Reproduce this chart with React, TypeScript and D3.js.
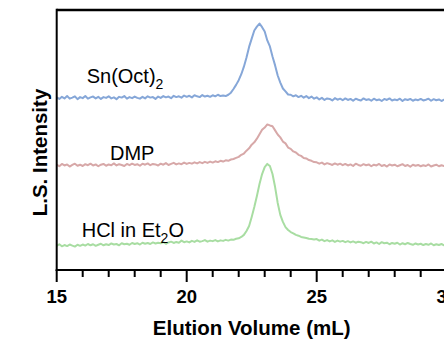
import React from "react";
import * as d3 from "d3";

// Elution volume grid (mL): 15.0 .. 30.0 step 0.1
const X_START = 15;
const X_STEP = 0.1;

const blueSn: number[] = [
  66.4, 65.8, 66.6, 66.0, 66.9, 65.9, 66.3, 66.8, 65.7, 66.5,
  66.1, 66.9, 65.9, 66.4, 66.7, 66.0, 66.6, 65.8, 66.5, 66.2,
  66.8, 66.0, 66.4, 65.7, 66.6, 66.3, 66.9, 65.9, 66.5, 66.1,
  66.7, 66.2, 65.9, 66.6, 66.0, 66.8, 66.3, 66.5, 65.8, 66.7,
  66.2, 66.9, 66.4, 66.7, 66.1, 67.0, 66.5, 66.8, 66.3, 67.1,
  66.6, 67.0, 66.4, 67.2, 66.8, 66.5, 67.3, 66.7, 67.0, 66.6,
  67.2, 66.8, 67.4, 66.9, 67.1, 66.9, 67.4, 68.2, 69.6, 71.2,
  73.0, 75.3, 78.2, 81.7, 85.8, 89.0, 92.1, 93.6, 94.8, 93.4,
  91.7, 88.3, 86.0, 82.1, 78.7, 74.8, 72.1, 69.8, 68.7, 67.5,
  67.4, 66.8, 67.2, 66.5, 67.0, 66.3, 66.9, 66.1, 66.7, 65.9,
  66.4, 65.6, 66.2, 65.4, 66.0, 65.8, 65.2, 66.1, 65.5, 65.9,
  65.3, 66.0, 65.4, 65.8, 65.1, 65.9, 65.5, 65.2, 66.0, 65.4,
  65.7, 65.1, 65.9, 65.3, 65.6, 65.0, 65.8, 65.4, 66.0, 65.2,
  65.6, 65.3, 65.9, 65.0, 65.7, 65.4, 65.8, 65.1, 65.6, 65.3,
  65.8, 65.2, 65.5, 65.9, 65.1, 65.7, 65.3, 65.6, 65.0, 65.5,
  65.4,
];

const redDMP: number[] = [
  40.5, 39.9, 40.8, 40.2, 40.6, 39.8, 40.4, 40.9, 40.1, 40.5,
  40.0, 40.7, 40.3, 40.9, 40.2, 40.6, 39.9, 40.5, 40.8, 40.1,
  40.6, 40.3, 41.0, 40.2, 40.7, 40.4, 40.0, 40.8, 40.3, 40.9,
  40.4, 40.7, 40.1, 40.9, 40.5, 41.0, 40.3, 40.8, 40.6, 40.2,
  40.9, 40.5, 41.1, 40.4, 40.8, 41.2, 40.6, 41.0, 40.7, 41.3,
  40.8, 41.2, 40.9, 41.4, 41.0, 41.5, 41.1, 41.6, 41.2, 41.7,
  41.3, 41.8, 41.5, 42.0, 41.7, 42.2, 42.0, 42.5, 42.7, 43.1,
  43.5, 44.3, 44.8, 45.9, 46.8, 48.2, 49.1, 50.5, 52.2, 53.9,
  54.8, 56.0, 55.6, 55.3, 53.7, 52.1, 51.0, 49.4, 48.7, 47.1,
  46.6, 45.6, 45.2, 44.3, 43.9, 43.1, 42.9, 42.3, 42.0, 41.5,
  41.4, 40.9, 41.3, 40.6, 41.1, 40.8, 40.4, 41.0, 40.5, 40.9,
  40.3, 40.8, 40.2, 40.6, 40.0, 40.9, 40.4, 40.1, 40.7, 40.3,
  40.6, 39.9, 40.5, 40.2, 40.8, 40.0, 40.4, 39.8, 40.6, 40.2,
  40.5, 39.9, 40.3, 40.7, 40.0, 40.4, 39.7, 40.5, 40.1, 40.4,
  39.9, 40.3, 40.0, 40.6, 39.8, 40.2, 40.5, 39.9, 40.3, 40.0,
  40.2,
];

const greenHCl: number[] = [
  9.3, 9.9, 9.1, 9.6, 9.2, 9.8, 9.4, 9.0, 9.7, 9.3,
  9.8, 9.4, 10.0, 9.5, 9.9, 9.3, 9.7, 10.1, 9.5, 9.9,
  9.6, 10.2, 9.8, 10.0, 9.5, 10.3, 9.9, 10.1, 9.7, 10.4,
  10.0, 10.3, 9.8, 10.5, 10.1, 10.4, 10.0, 10.6, 10.2, 10.5,
  10.3, 10.7, 10.1, 10.6, 10.9, 10.4, 10.8, 10.5, 11.3, 10.7,
  11.0, 10.6, 11.2, 10.8, 11.4, 10.9, 11.1, 11.5, 10.9, 11.3,
  11.1, 11.5, 11.0, 11.4, 11.2, 11.6, 11.3, 11.7, 11.6, 12.0,
  12.2, 12.7, 13.5, 15.0, 16.9, 20.4, 24.2, 28.5, 33.1, 36.9,
  39.6, 40.8, 40.0, 36.9, 31.9, 25.8, 21.2, 18.5, 16.5, 15.4,
  14.6, 14.1, 13.5, 13.2, 12.7, 12.5, 12.3, 12.0, 11.9, 11.7,
  11.9, 11.3, 11.7, 11.1, 11.5, 11.0, 11.4, 10.8, 11.3, 10.9,
  11.2, 10.7, 11.1, 10.6, 11.0, 10.5, 10.9, 10.7, 10.3, 10.8,
  10.4, 10.9, 10.2, 10.6, 10.0, 10.7, 10.3, 10.5, 9.9, 10.4,
  10.1, 10.5, 9.8, 10.3, 9.9, 10.4, 10.0, 9.7, 10.2, 9.8,
  10.1, 9.6, 10.0, 9.7, 10.2, 9.5, 9.9, 9.6, 10.0, 9.5,
  9.8,
];

const xTicksMajor = [15, 20, 25, 30];
const xTicksMinor = [16, 17, 18, 19, 21, 22, 23, 24, 26, 27, 28, 29];

const series = [
  { name: "Sn(Oct)", sub: "2", after: "", values: blueSn, color: "#86a7d8", lx: 86.7, ly: 83.3 },
  { name: "DMP", sub: "", after: "", values: redDMP, color: "#d7a8a8", lx: 110, ly: 160 },
  { name: "HCl in Et", sub: "2", after: "O", values: greenHCl, color: "#a8dda2", lx: 81.7, ly: 237.3 },
];

const FONT = "'Liberation Sans', Arial, Helvetica, sans-serif";

export default function App() {
  const W = 444;
  const H = 339;
  const left = 56.7;
  const right = 446.7;
  const top = 10;
  const bottom = 270;

  const x = d3.scaleLinear().domain([15, 30]).range([left, right]);
  const y = d3.scaleLinear().domain([0, 100]).range([bottom, top]);

  const line = d3
    .line<number>()
    .x((_, i) => x(X_START + i * X_STEP))
    .y((d) => y(d));

  return (
    <svg
      width={W}
      height={H}
      style={{ position: "absolute", left: 0, top: 0, background: "#fff" }}
      fontFamily={FONT}
    >
      <defs>
        <clipPath id="plot">
          <rect x={left} y={top} width={right - left} height={bottom - top} />
        </clipPath>
      </defs>
      <g clipPath="url(#plot)">
        {series.map((s) => (
          <path
            key={s.name}
            d={line(s.values) || ""}
            fill="none"
            stroke={s.color}
            strokeWidth={2}
            strokeLinejoin="round"
          />
        ))}
      </g>

      {/* frame */}
      <line x1={left} x2={W + 5} y1={top} y2={top} stroke="#000" strokeWidth={2.4} />
      <line x1={left} x2={left} y1={top - 1.2} y2={bottom + 1} stroke="#000" strokeWidth={2} />
      <line x1={left - 1} x2={W + 5} y1={bottom} y2={bottom} stroke="#000" strokeWidth={2} />

      {/* ticks */}
      {xTicksMajor.map((t) => (
        <g key={"M" + t}>
          <line x1={x(t)} x2={x(t)} y1={bottom} y2={bottom + 12} stroke="#000" strokeWidth={2} />
          <text x={x(t)} y={303} textAnchor="middle" fontSize={18.5} fontWeight="bold">
            {t}
          </text>
        </g>
      ))}
      {xTicksMinor.map((t) => (
        <line key={"m" + t} x1={x(t)} x2={x(t)} y1={bottom} y2={bottom + 7} stroke="#000" strokeWidth={2} />
      ))}

      {/* axis titles */}
      <text x={(left + right) / 2} y={335} textAnchor="middle" fontSize={20.5} fontWeight="bold">
        Elution Volume (mL)
      </text>
      <text
        transform={`translate(46.5,152.5) rotate(-90)`}
        textAnchor="middle"
        fontSize={20.5}
        fontWeight="bold"
      >
        L.S. Intensity
      </text>

      {/* series labels */}
      {series.map((s) => (
        <text key={"l" + s.name} x={s.lx} y={s.ly} fontSize={20}>
          {s.name}
          {s.sub && (
            <tspan dy={6} fontSize={14}>
              {s.sub}
            </tspan>
          )}
          {s.after && <tspan dy={-6}>{s.after}</tspan>}
        </text>
      ))}
    </svg>
  );
}
